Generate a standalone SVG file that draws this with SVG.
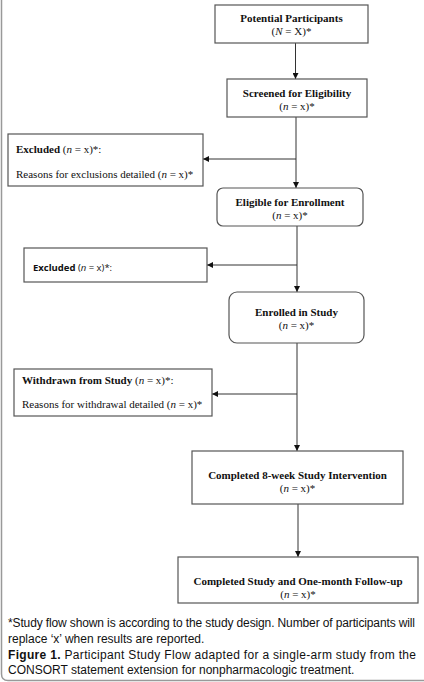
<svg xmlns="http://www.w3.org/2000/svg" width="424" height="682" viewBox="0 0 424 682">
<defs>
<marker id="ah" viewBox="0 0 6 6" refX="6" refY="3" markerWidth="6" markerHeight="6" markerUnits="userSpaceOnUse" orient="auto"><path d="M0,0 L6,3 L0,6 Z" fill="#111"/></marker>
</defs>
<style>
.box{fill:#fff;stroke:#555;stroke-width:1.2}
.t{font-family:"Liberation Serif","Times New Roman",serif;font-size:11px;fill:#111}
.c{text-anchor:middle}
.b{font-weight:bold}
.i{font-style:italic}
.s{font-family:"Liberation Sans",Arial,sans-serif;font-size:12px;fill:#111}
.cal{font-family:"Open Sans","Liberation Sans",sans-serif;font-size:9.5px;fill:#111}
.ln{fill:none;stroke:#333;stroke-width:1}
</style>
<rect width="424" height="682" fill="#fff"/>
<path d="M1.5,0 V674 Q1.5,680.5 8,680.5 H424" fill="none" stroke="#999" stroke-width="1.5"/>

<g id="connectors">
<line class="ln" x1="295.5" y1="43" x2="295.5" y2="79" marker-end="url(#ah)"/>
<line class="ln" x1="296" y1="117" x2="296" y2="188" marker-end="url(#ah)"/>
<line class="ln" x1="296" y1="159" x2="203" y2="159" stroke="#777" marker-end="url(#ah)"/>
<line class="ln" x1="297" y1="226" x2="297" y2="292" marker-end="url(#ah)"/>
<line class="ln" x1="297" y1="265" x2="207" y2="265" marker-end="url(#ah)"/>
<line class="ln" x1="297" y1="343" x2="297" y2="451" marker-end="url(#ah)"/>
<line class="ln" x1="297" y1="394" x2="212" y2="394" stroke="#999" stroke-width="1.6" marker-end="url(#ah)"/>
<line class="ln" x1="298" y1="504" x2="298" y2="557" marker-end="url(#ah)"/>
</g>

<g id="potential">
<rect class="box" x="215" y="5" width="153" height="38"/>
<text class="t c b" x="291.5" y="22">Potential Participants</text>
<text class="t c" x="291.5" y="35">(<tspan class="i">N</tspan> = X)*</text>
</g>

<g id="screened">
<rect class="box" x="227" y="79" width="140" height="38"/>
<text class="t c b" x="297" y="97">Screened for Eligibility</text>
<text class="t c" x="297" y="110">(<tspan class="i">n</tspan> = x)*</text>
</g>

<g id="excluded1">
<rect class="box" x="8" y="134" width="195" height="52"/>
<text class="t" x="16" y="153"><tspan class="b">Excluded</tspan> (<tspan class="i">n</tspan> = x)*:</text>
<text class="t" x="16" y="178">Reasons for exclusions detailed (<tspan class="i">n</tspan> = x)*</text>
</g>

<g id="eligible">
<rect class="box" x="217" y="188" width="146" height="38" rx="6"/>
<text class="t c b" x="290" y="206">Eligible for Enrollment</text>
<text class="t c" x="290" y="219">(<tspan class="i">n</tspan> = x)*</text>
</g>

<g id="excluded2">
<rect class="box" x="24" y="248" width="183" height="34"/>
<text class="cal" x="33" y="271"><tspan font-weight="bold">Excluded</tspan> (<tspan font-style="italic">n</tspan> = x)*:</text>
</g>

<g id="enrolled">
<rect class="box" x="229" y="292" width="135" height="51" rx="8"/>
<text class="t c b" x="296.5" y="316">Enrolled in Study</text>
<text class="t c" x="296.5" y="329">(<tspan class="i">n</tspan> = x)*</text>
</g>

<g id="withdrawn">
<rect class="box" x="14" y="369" width="198" height="47"/>
<text class="t" x="22" y="384"><tspan class="b">Withdrawn from Study</tspan> (<tspan class="i">n</tspan> = x)*:</text>
<text class="t" x="22" y="408">Reasons for withdrawal detailed (<tspan class="i">n</tspan> = x)*</text>
</g>

<g id="completed8">
<rect class="box" x="192" y="451" width="211" height="53"/>
<text class="t c b" x="297.5" y="479">Completed 8-week Study Intervention</text>
<text class="t c" x="297.5" y="492">(<tspan class="i">n</tspan> = x)*</text>
</g>

<g id="completedFU">
<rect class="box" x="178" y="557" width="240" height="46"/>
<text class="t c b" x="298" y="585">Completed Study and One-month Follow-up</text>
<text class="t c" x="298" y="598">(<tspan class="i">n</tspan> = x)*</text>
</g>

<g id="caption">
<text class="s" x="8" y="627" textLength="407" lengthAdjust="spacing">*Study flow shown is according to the study design. Number of participants will</text>
<text class="s" x="8" y="643">replace ‘x’ when results are reported.</text>
<text class="s" x="8" y="659" textLength="408" lengthAdjust="spacing"><tspan font-weight="bold">Figure 1.</tspan> Participant Study Flow adapted for a single-arm study from the</text>
<text class="s" x="8" y="674">CONSORT statement extension for nonpharmacologic treatment.</text>
</g>
</svg>
